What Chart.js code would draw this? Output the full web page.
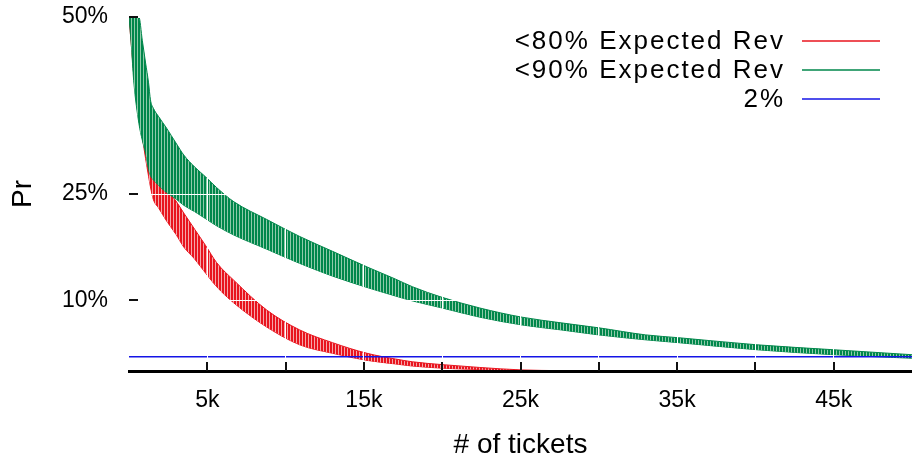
<!DOCTYPE html>
<html lang="en">
  <head>
    <meta charset="UTF-8" />
    <title>Pr by number of tickets</title>
    <style>
      *,
      *::after,
      *::before {
        margin: 0;
        padding: 0;
      }

      body {
        background: #fff;
      }

      canvas {
        display: block;
      }
    </style>
  </head>
  <body>
    <canvas id="myChart" width="912" height="464"></canvas>

    <script src="https://cdn.jsdelivr.net/npm/chart.js@4/dist/chart.umd.min.js"></script>
    <script>
      // Number of tickets, in thousands
      const ticketsK = [
        0, 0.15, 0.3, 0.63, 0.85, 1.06, 1.25, 1.37, 1.56, 1.9, 2.4, 3.0, 3.5, 4.2, 4.9, 5.6, 6.7,
        8.8, 10.9, 13.0, 15.2, 17.0, 18.1, 20.0, 22.4, 25.1, 27.6, 30.0, 33.0, 35.1, 40.1, 45.0, 50.0
      ]

      // <90% expected rev: top and bottom of the oscillating band (%)
      const green90High = [
        50, 50, 50, 50, 46.7, 43.5, 40.7, 38.3, 37.1, 35.9, 34.3, 32.2, 30.5, 28.8, 27.4, 25.9, 23.9,
        21.4, 19.0, 16.9, 14.7, 13.0, 11.9, 10.4, 8.9, 7.6, 6.8, 6.1, 5.1, 4.7, 3.7, 3.0, 2.3
      ]
      const green90Low = [
        50, 46, 41, 35, 32.6, 30.8, 28.5, 27.6, 27.0, 26.2, 25.2, 24.3, 23.4, 22.5, 21.5, 20.5, 19.2,
        17.2, 15.2, 13.4, 11.8, 10.6, 9.9, 8.9, 7.6, 6.5, 5.8, 5.1, 4.4, 4.0, 3.0, 2.3, 1.8
      ]

      // <80% expected rev: top and bottom of the band (%)
      const red80High = [
        50, 49, 47, 42, 38, 34, 31, 29.5, 27.5, 26.6, 25.6, 24.0, 22.3, 20.0, 17.7, 15.3, 12.8,
        8.6, 5.8, 4.0, 2.5, 1.7, 1.3, 0.9, 0.5, 0.15, 0.05, 0, 0, 0, 0, 0, 0
      ]
      const red80Low = [
        50, 46, 42, 36, 33, 30, 27.5, 26, 24.2, 23, 21.2, 19.3, 17.5, 15.8, 13.8, 11.9, 9.6,
        6.2, 3.7, 2.5, 1.5, 1.0, 0.7, 0.4, 0.2, 0, 0, 0, 0, 0, 0, 0, 0
      ]

      // 2% reference line
      const refTickets = [0, 50]
      const refValues = [2, 2]

      const seriesNames = ['<80% Expected Rev', '<90% Expected Rev', '2%']

      const xTickValues = [5, 10, 15, 20, 25, 30, 35, 40, 45]
      const xTickLabels = ['5k', '', '15k', '', '25k', '', '35k', '', '45k']
      const yTickValues = [10, 25, 50]
      const yTickLabels = ['10%', '25%', '50%']

      const FONT = '"Liberation Sans", Arial, Helvetica, sans-serif'
      const RED = '#e8141e'
      const GREEN = '#00874b'
      const BLUE = '#1414e6'

      // vertical hatching, like the dense zigzag of the original
      function stripes(dark, light) {
        const c = document.createElement('canvas')
        c.width = 3
        c.height = 1
        const g = c.getContext('2d')
        g.fillStyle = light
        g.fillRect(0, 0, 3, 1)
        g.fillStyle = dark
        g.fillRect(0, 0, 2, 1)
        return g.createPattern(c, 'repeat')
      }

      const pts = (xs, ys) => xs.map((x, i) => ({ x, y: ys[i] }))

      // gnuplot style ticks pointing into the plot
      const innerTicks = {
        id: 'innerTicks',
        afterDraw(chart) {
          const { ctx, chartArea, scales } = chart
          ctx.save()
          ctx.strokeStyle = '#111'
          ctx.lineWidth = 2
          ctx.beginPath()
          xTickValues.forEach((v) => {
            const px = Math.round(scales.x.getPixelForValue(v))
            ctx.moveTo(px, chartArea.bottom)
            ctx.lineTo(px, chartArea.bottom - 9)
          })
          yTickValues.forEach((v) => {
            const py = Math.round(scales.y.getPixelForValue(v))
            ctx.moveTo(chartArea.left, py)
            ctx.lineTo(chartArea.left + 9, py)
          })
          ctx.stroke()
          ctx.restore()
        }
      }

      // key in the top right corner: text first, line sample after it
      const keyBox = {
        id: 'keyBox',
        afterDraw(chart) {
          const { ctx } = chart
          const colors = [RED, GREEN, BLUE]
          ctx.save()
          ctx.font = '26px ' + FONT
          ctx.letterSpacing = '2px'
          ctx.textAlign = 'right'
          ctx.textBaseline = 'middle'
          seriesNames.forEach((name, i) => {
            const cy = 41 + i * 29
            ctx.fillStyle = '#000'
            ctx.fillText(name, 785, cy + 1)
            ctx.strokeStyle = colors[i]
            ctx.lineWidth = 1.5
            ctx.beginPath()
            ctx.moveTo(802, cy)
            ctx.lineTo(880, cy)
            ctx.stroke()
          })
          ctx.restore()
        }
      }

      const ctx = document.getElementById('myChart')

      const data = {
        datasets: [
          {
            label: seriesNames[2],
            data: pts(refTickets, refValues),
            borderColor: BLUE,
            borderWidth: 1.5,
            pointRadius: 0,
            fill: false,
            order: 0
          },
          {
            label: seriesNames[1],
            data: pts(ticketsK, green90High),
            borderColor: GREEN,
            borderWidth: 1,
            backgroundColor: stripes(GREEN, '#8fcaa9'),
            pointRadius: 0,
            cubicInterpolationMode: 'monotone',
            fill: '+1',
            order: 1
          },
          {
            label: seriesNames[1] + ' low',
            data: pts(ticketsK, green90Low),
            borderColor: GREEN,
            borderWidth: 1,
            pointRadius: 0,
            cubicInterpolationMode: 'monotone',
            fill: false,
            order: 2
          },
          {
            label: seriesNames[0],
            data: pts(ticketsK, red80High),
            borderColor: RED,
            borderWidth: 1,
            backgroundColor: stripes(RED, '#f5a6a9'),
            pointRadius: 0,
            cubicInterpolationMode: 'monotone',
            fill: '+1',
            order: 3
          },
          {
            label: seriesNames[0] + ' low',
            data: pts(ticketsK, red80Low),
            borderColor: RED,
            borderWidth: 1,
            pointRadius: 0,
            cubicInterpolationMode: 'monotone',
            fill: false,
            order: 4
          }
        ]
      }

      const options = {
        responsive: false,
        animation: false,
        layout: { padding: { top: 17, right: 0, bottom: 0, left: 0 } },
        plugins: {
          legend: { display: false },
          tooltip: { enabled: false }
        },
        scales: {
          x: {
            type: 'linear',
            min: 0,
            max: 50,
            afterBuildTicks: (s) => {
              s.ticks = xTickValues.map((v) => ({ value: v }))
            },
            afterFit: (s) => {
              s.height = 93
              s.paddingLeft = 0
              s.paddingRight = 0
            },
            grid: { color: '#fff', lineWidth: 1, drawTicks: false, z: 1 },
            border: { color: '#000', width: 3, z: 2 },
            ticks: {
              autoSkip: false,
              maxRotation: 0,
              padding: 16,
              color: '#000',
              font: { family: FONT, size: 23 },
              callback: (value, index) => xTickLabels[index]
            },
            title: {
              display: true,
              text: '# of tickets',
              color: '#000',
              font: { family: FONT, size: 28 },
              padding: { top: 0, bottom: 2 }
            }
          },
          y: {
            min: 0,
            max: 50,
            afterBuildTicks: (s) => {
              s.ticks = yTickValues.map((v) => ({ value: v }))
            },
            afterFit: (s) => {
              s.width = 129
              s.paddingTop = 0
              s.paddingBottom = 0
            },
            grid: { color: '#fff', lineWidth: 1, drawTicks: false, z: 1 },
            border: { display: false },
            ticks: {
              padding: 21,
              color: '#000',
              font: { family: FONT, size: 23 },
              callback: (value, index) => yTickLabels[index]
            },
            title: {
              display: true,
              text: 'Pr',
              color: '#000',
              font: { family: FONT, size: 28 },
              padding: { top: 6, bottom: 0 }
            }
          }
        }
      }

      new Chart(ctx, { type: 'line', data, options, plugins: [innerTicks, keyBox] })
    </script>
  </body>
</html>
